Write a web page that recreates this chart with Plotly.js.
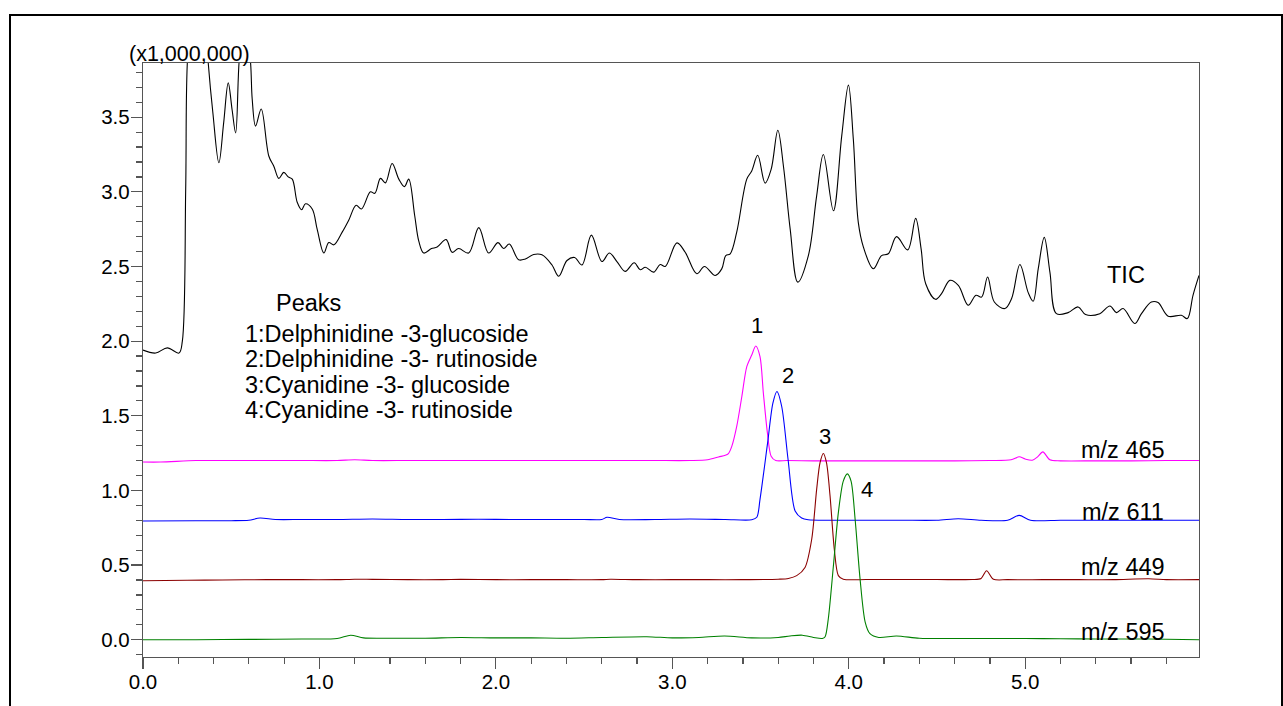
<!DOCTYPE html>
<html>
<head>
<meta charset="utf-8">
<script src="https://cdn.plot.ly/plotly-3.0.1.min.js"></script>
<style>
  html, body { margin: 0; padding: 0; width: 1283px; height: 706px; overflow: hidden; background: #fff; }
  #chart { position: absolute; left: 0; top: 0; width: 1283px; height: 706px; }
  #frame { position: absolute; left: 9px; top: 14px; width: 1274px; height: 800px; box-sizing: border-box;
           border: 2.5px solid #000; pointer-events: none; }
  /* nudge tick labels closer to the axes, as in the reference */
  #chart g.xtick { transform: translateY(-5px); }
  #chart g.ytick { transform: translateX(3px); }
</style>
</head>
<body>
<div id="chart"></div>
<div id="frame"></div>
<script>
// ---- Data (retention time in min, intensity in x1,000,000) ----
const ticTime = [0, 0.072, 0.138, 0.204, 0.223, 0.242, 0.251, 0.29, 0.33, 0.37, 0.396, 0.43, 0.457, 0.483, 0.505, 0.525, 0.544, 0.575, 0.61, 0.619, 0.638, 0.67, 0.713, 0.742, 0.770, 0.798, 0.823, 0.846, 0.874, 0.899, 0.921, 0.959, 0.987, 1.025, 1.053, 1.082, 1.129, 1.166, 1.208, 1.238, 1.289, 1.314, 1.346, 1.374, 1.412, 1.45, 1.482, 1.506, 1.540, 1.563, 1.591, 1.635, 1.667, 1.718, 1.752, 1.789, 1.846, 1.903, 1.959, 2.012, 2.044, 2.076, 2.129, 2.167, 2.214, 2.261, 2.318, 2.356, 2.403, 2.446, 2.488, 2.541, 2.601, 2.643, 2.686, 2.733, 2.784, 2.818, 2.847, 2.894, 2.931, 2.96, 3.026, 3.073, 3.139, 3.182, 3.243, 3.280, 3.303, 3.328, 3.365, 3.422, 3.45, 3.484, 3.526, 3.56, 3.598, 3.63, 3.668, 3.711, 3.771, 3.818, 3.856, 3.913, 3.96, 3.998, 4.026, 4.054, 4.083, 4.139, 4.186, 4.224, 4.271, 4.334, 4.379, 4.41, 4.436, 4.492, 4.526, 4.573, 4.621, 4.677, 4.721, 4.753, 4.787, 4.825, 4.885, 4.923, 4.97, 5.017, 5.045, 5.074, 5.108, 5.14, 5.177, 5.243, 5.30, 5.342, 5.423, 5.48, 5.517, 5.555, 5.621, 5.659, 5.715, 5.753, 5.81, 5.885, 5.919, 5.951, 5.985];
const ticValues = [1.94, 1.92, 1.955, 1.92, 2.0, 3.02, 3.86, 4.5, 4.6, 3.86, 3.53, 3.195, 3.46, 3.73, 3.55, 3.395, 3.86, 4.3, 3.86, 3.62, 3.44, 3.555, 3.24, 3.17, 3.09, 3.13, 3.10, 3.085, 2.93, 2.88, 2.92, 2.885, 2.75, 2.59, 2.66, 2.645, 2.73, 2.81, 2.91, 2.885, 3.0, 2.99, 3.09, 3.06, 3.19, 3.085, 3.035, 3.085, 2.84, 2.67, 2.59, 2.62, 2.63, 2.68, 2.595, 2.62, 2.59, 2.76, 2.59, 2.66, 2.62, 2.65, 2.545, 2.55, 2.58, 2.578, 2.51, 2.435, 2.54, 2.56, 2.51, 2.71, 2.533, 2.59, 2.533, 2.467, 2.525, 2.478, 2.495, 2.462, 2.513, 2.5, 2.658, 2.595, 2.451, 2.50, 2.44, 2.484, 2.573, 2.585, 2.73, 3.085, 3.14, 3.245, 3.058, 3.15, 3.413, 3.17, 2.75, 2.395, 2.573, 2.973, 3.25, 2.873, 3.373, 3.715, 3.35, 2.795, 2.63, 2.485, 2.573, 2.585, 2.70, 2.611, 2.822, 2.618, 2.384, 2.28, 2.318, 2.407, 2.373, 2.24, 2.307, 2.295, 2.429, 2.262, 2.218, 2.285, 2.513, 2.325, 2.267, 2.485, 2.695, 2.462, 2.184, 2.191, 2.229, 2.178, 2.184, 2.235, 2.191, 2.218, 2.118, 2.184, 2.262, 2.258, 2.167, 2.173, 2.151, 2.307, 2.44];

const mz465Time = [0, 0.1, 0.3, 0.5, 0.7, 0.9, 1.1, 1.2, 1.3, 1.5, 1.7, 1.9, 2.1, 2.3, 2.5, 2.7, 2.9, 3.1, 3.2, 3.262, 3.3, 3.318, 3.337, 3.365, 3.394, 3.422, 3.45, 3.473, 3.497, 3.516, 3.539, 3.56, 3.586, 3.65, 3.8, 4.0, 4.2, 4.4, 4.6, 4.8, 4.92, 4.966, 5.0, 5.04, 5.07, 5.10, 5.14, 5.2, 5.4, 5.6, 5.8, 5.985];
const mz465Values = [1.19, 1.19, 1.2, 1.2, 1.2, 1.2, 1.2, 1.205, 1.2, 1.2, 1.2, 1.2, 1.2, 1.2, 1.2, 1.2, 1.2, 1.2, 1.205, 1.224, 1.235, 1.247, 1.295, 1.429, 1.629, 1.829, 1.907, 1.967, 1.896, 1.651, 1.384, 1.229, 1.2, 1.2, 1.198, 1.198, 1.198, 1.198, 1.198, 1.2, 1.205, 1.225, 1.21, 1.202, 1.225, 1.258, 1.205, 1.198, 1.198, 1.198, 1.2, 1.2];

const mz611Time = [0, 0.3, 0.5, 0.6, 0.663, 0.75, 0.9, 1.1, 1.3, 1.5, 1.7, 1.9, 2.1, 2.3, 2.5, 2.6, 2.63, 2.7, 2.9, 3.1, 3.3, 3.45, 3.479, 3.497, 3.54, 3.57, 3.593, 3.62, 3.656, 3.696, 3.733, 3.77, 3.9, 4.1, 4.3, 4.5, 4.62, 4.75, 4.9, 4.966, 5.03, 5.2, 5.4, 5.6, 5.8, 5.985];
const mz611Values = [0.795, 0.797, 0.797, 0.8, 0.815, 0.805, 0.805, 0.805, 0.808, 0.805, 0.805, 0.807, 0.805, 0.805, 0.805, 0.805, 0.82, 0.805, 0.805, 0.808, 0.805, 0.803, 0.82, 0.94, 1.318, 1.584, 1.662, 1.562, 1.207, 0.862, 0.815, 0.803, 0.8, 0.8, 0.8, 0.8, 0.81, 0.8, 0.8, 0.833, 0.8, 0.8, 0.8, 0.8, 0.8, 0.8];

const mz449Time = [0, 0.25, 0.45, 0.7, 0.9, 1.1, 1.2, 1.3, 1.5, 1.7, 1.8, 2.0, 2.2, 2.4, 2.6, 2.65, 2.8, 3.0, 3.2, 3.4, 3.6, 3.658, 3.705, 3.752, 3.79, 3.818, 3.837, 3.856, 3.874, 3.894, 3.918, 3.941, 3.969, 4.1, 4.3, 4.5, 4.7, 4.75, 4.781, 4.82, 4.9, 5.1, 5.3, 5.5, 5.7, 5.8, 5.985];
const mz449Values = [0.395, 0.398, 0.4, 0.402, 0.402, 0.402, 0.405, 0.404, 0.402, 0.402, 0.404, 0.402, 0.402, 0.402, 0.402, 0.405, 0.402, 0.402, 0.402, 0.402, 0.405, 0.41, 0.429, 0.484, 0.673, 1.007, 1.184, 1.247, 1.184, 0.962, 0.607, 0.429, 0.405, 0.403, 0.403, 0.403, 0.403, 0.41, 0.462, 0.405, 0.402, 0.402, 0.402, 0.402, 0.408, 0.402, 0.402];

const mz595Time = [0, 0.3, 0.6, 0.9, 1.1, 1.177, 1.25, 1.4, 1.6, 1.8, 2.0, 2.2, 2.4, 2.6, 2.855, 3.0, 3.15, 3.296, 3.45, 3.6, 3.667, 3.737, 3.8, 3.85, 3.866, 3.884, 3.913, 3.941, 3.969, 3.992, 4.013, 4.036, 4.064, 4.093, 4.12, 4.17, 4.27, 4.4, 4.6, 4.8, 5.0, 5.2, 5.4, 5.6, 5.8, 5.985];
const mz595Values = [0.0, 0.0, 0.002, 0.005, 0.008, 0.03, 0.012, 0.01, 0.01, 0.015, 0.012, 0.012, 0.01, 0.015, 0.02, 0.012, 0.015, 0.025, 0.012, 0.015, 0.025, 0.03, 0.015, 0.008, 0.02, 0.14, 0.495, 0.851, 1.062, 1.111, 1.062, 0.807, 0.407, 0.118, 0.04, 0.015, 0.025, 0.01, 0.008, 0.008, 0.008, 0.006, 0.005, 0.005, 0.003, 0.0];

// Labels
const traceNames = ["TIC", "m/z 465", "m/z 611", "m/z 449", "m/z 595"];
const traceLabelPos = [[5.57, 2.44], [5.552, 1.273], [5.552, 0.853], [5.552, 0.485], [5.552, 0.053]];
const peakNumbers = ["1", "2", "3", "4"];
const peakLabelPos = [[3.48, 2.107], [3.658, 1.77], [3.866, 1.362], [4.101, 1.004]];
const legendTitle = "Peaks";
const legendLines = ["1:Delphinidine -3-glucoside", "2:Delphinidine -3- rutinoside", "3:Cyanidine -3- glucoside", "4:Cyanidine -3- rutinoside"];
const legendLineY = [2.051, 1.88, 1.707, 1.54];
const scaleLabel = "(x1,000,000)";

const FONT = "Arial, 'Liberation Sans', sans-serif";

function line(x, y, color, name, smooth) {
  return { x: x, y: y, type: 'scatter', mode: 'lines', name: name,
           line: { color: color, width: 1.1, shape: 'spline', smoothing: smooth },
           hoverinfo: 'skip' };
}

const data = [
  line(ticTime, ticValues, '#000000', 'TIC', 1.0),
  line(mz465Time, mz465Values, '#ff00ff', 'm/z 465', 0.8),
  line(mz611Time, mz611Values, '#0000ff', 'm/z 611', 0.8),
  line(mz449Time, mz449Values, '#8b0000', 'm/z 449', 0.8),
  line(mz595Time, mz595Values, '#008000', 'm/z 595', 0.8)
];

const ann = [];
traceNames.forEach((t, i) => ann.push({ x: traceLabelPos[i][0], y: traceLabelPos[i][1], xref: 'x', yref: 'y',
  text: t, showarrow: false, xanchor: 'center', yanchor: 'middle', font: { family: FONT, size: 23.5, color: '#000' } }));
peakNumbers.forEach((t, i) => ann.push({ x: peakLabelPos[i][0], y: peakLabelPos[i][1], xref: 'x', yref: 'y',
  text: t, showarrow: false, xanchor: 'center', yanchor: 'middle', font: { family: FONT, size: 22, color: '#000' } }));
ann.push({ x: 0.745, y: 2.253, xref: 'x', yref: 'y', text: legendTitle, showarrow: false,
  xanchor: 'left', yanchor: 'middle', font: { family: FONT, size: 23.5, color: '#000' } });
legendLines.forEach((t, i) => ann.push({ x: 0.566, y: legendLineY[i], xref: 'x', yref: 'y', text: t, showarrow: false,
  xanchor: 'left', yanchor: 'middle', font: { family: FONT, size: 23.5, color: '#000' } }));
ann.push({ x: 0.266, y: 1.0, xref: 'x', yref: 'paper', yshift: 9, text: scaleLabel, showarrow: false,
  xanchor: 'center', yanchor: 'middle', font: { family: FONT, size: 21.5, color: '#000' } });

const axisCommon = {
  showline: true, mirror: true, linecolor: '#555', linewidth: 1.2,
  ticks: 'outside', tickcolor: '#555', tickwidth: 1.2, ticklen: 11,
  showgrid: false, zeroline: false, automargin: false,
  tickfont: { family: FONT, size: 20.5, color: '#000' }, tickformat: '.1f'
};

const layout = {
  width: 1283, height: 706,
  margin: { l: 143, r: 83.5, t: 62.5, b: 48.7, pad: 0 },
  paper_bgcolor: '#fff', plot_bgcolor: '#fff',
  showlegend: false,
  xaxis: Object.assign({}, axisCommon, { range: [0, 5.985], tick0: 0, dtick: 1,
    minor: { dtick: 0.2, tick0: 0, ticks: 'outside', ticklen: 6, tickcolor: '#555', tickwidth: 1.2, showgrid: false } }),
  yaxis: Object.assign({}, axisCommon, { range: [-0.116, 3.863], tick0: 0, dtick: 0.5,
    minor: { dtick: 0.1, tick0: 0, ticks: 'outside', ticklen: 6, tickcolor: '#555', tickwidth: 1.2, showgrid: false } }),
  annotations: ann
};

Plotly.newPlot('chart', data, layout, { staticPlot: true, displayModeBar: false });
</script>
</body>
</html>
